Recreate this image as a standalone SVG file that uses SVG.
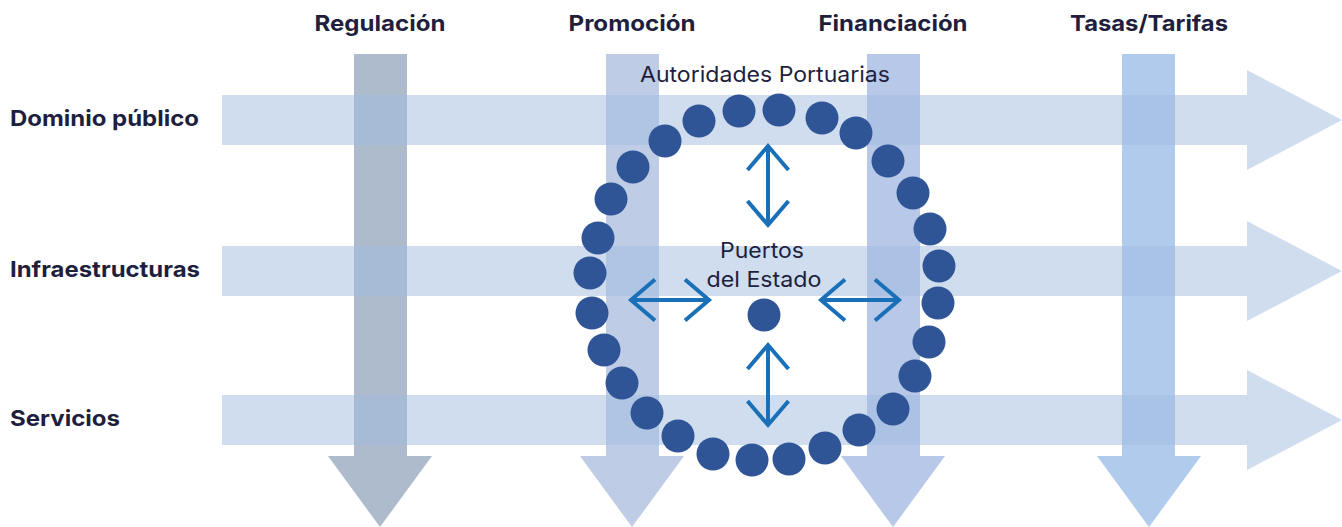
<svg xmlns="http://www.w3.org/2000/svg" width="1342" height="527" viewBox="0 0 1342 527">
<style>
.hd{font-family:Inter,"Liberation Sans",sans-serif;font-weight:700;font-size:22px;fill:#1e1f3f}
.rg{font-family:Inter,"Liberation Sans",sans-serif;font-weight:400;font-size:21.5px;fill:#1e1f3f}
.h{fill:#a2bce0;fill-opacity:0.5}
.dot{fill:#2f5597}
.dbl{stroke:#1a70b8;stroke-width:4;fill:none;marker-start:url(#chev);marker-end:url(#chev)}
</style>
<defs>
<marker id="chev" markerUnits="userSpaceOnUse" viewBox="-28 -24 32 48" refX="0" refY="0" markerWidth="32" markerHeight="48" orient="auto-start-reverse">
<path d="M-24,-20.5 L0,0 L-24,20.5" fill="none" stroke="#1a70b8" stroke-width="4"/>
</marker>
</defs>
<rect width="1342" height="527" fill="#ffffff"/>
<g id="col-regulacion">
<path d="M354,54 H407 V456 H432 L380,527 L328,456 H354 Z" fill="#aebbcd"/>
<text class="hd" x="380" y="31" text-anchor="middle" textLength="131" lengthAdjust="spacingAndGlyphs">Regulación</text>
</g>
<g id="col-promocion">
<path d="M606,54 H659 V456 H684 L632,527 L580,456 H606 Z" fill="#bfcce6"/>
<text class="hd" x="632" y="31" text-anchor="middle" textLength="127" lengthAdjust="spacingAndGlyphs">Promoción</text>
</g>
<g id="col-financiacion">
<path d="M867,54 H920 V456 H945 L893,527 L841,456 H867 Z" fill="#b7c8e8"/>
<text class="hd" x="893" y="31" text-anchor="middle" textLength="149" lengthAdjust="spacingAndGlyphs">Financiación</text>
</g>
<g id="col-tasas">
<path d="M1122,54 H1175 V456 H1201 L1149,527 L1097,456 H1122 Z" fill="#b0cbec"/>
<text class="hd" x="1149" y="31" text-anchor="middle" textLength="158" lengthAdjust="spacingAndGlyphs">Tasas/Tarifas</text>
</g>
<g id="row-dominio">
<path class="h" d="M222,95 H1247 V70 L1342,120 L1247,170 V145 H222 Z"/>
<text class="hd" x="10" y="126" textLength="189" lengthAdjust="spacingAndGlyphs">Dominio público</text>
</g>
<g id="row-infraestructuras">
<path class="h" d="M222,246 H1247 V221 L1342,271 L1247,321 V296 H222 Z"/>
<text class="hd" x="10" y="277" textLength="190" lengthAdjust="spacingAndGlyphs">Infraestructuras</text>
</g>
<g id="row-servicios">
<path class="h" d="M222,395 H1247 V370 L1342,420 L1247,470 V445 H222 Z"/>
<text class="hd" x="10" y="426" textLength="110" lengthAdjust="spacingAndGlyphs">Servicios</text>
</g>
<g id="autoridades-portuarias">
<text class="rg" x="765" y="82" text-anchor="middle" textLength="250" lengthAdjust="spacingAndGlyphs">Autoridades Portuarias</text>
<circle class="dot" cx="699" cy="121" r="16.5"/>
<circle class="dot" cx="739" cy="111" r="16.5"/>
<circle class="dot" cx="779" cy="110" r="16.5"/>
<circle class="dot" cx="822" cy="118" r="16.5"/>
<circle class="dot" cx="856" cy="133" r="16.5"/>
<circle class="dot" cx="888" cy="161" r="16.5"/>
<circle class="dot" cx="913" cy="193" r="16.5"/>
<circle class="dot" cx="930" cy="229" r="16.5"/>
<circle class="dot" cx="939" cy="266" r="16.5"/>
<circle class="dot" cx="938" cy="303" r="16.5"/>
<circle class="dot" cx="929" cy="342" r="16.5"/>
<circle class="dot" cx="915" cy="376" r="16.5"/>
<circle class="dot" cx="893" cy="409" r="16.5"/>
<circle class="dot" cx="859" cy="430" r="16.5"/>
<circle class="dot" cx="825" cy="448" r="16.5"/>
<circle class="dot" cx="789" cy="459" r="16.5"/>
<circle class="dot" cx="752" cy="460" r="16.5"/>
<circle class="dot" cx="713" cy="454" r="16.5"/>
<circle class="dot" cx="678" cy="436" r="16.5"/>
<circle class="dot" cx="647" cy="413" r="16.5"/>
<circle class="dot" cx="622" cy="383" r="16.5"/>
<circle class="dot" cx="604" cy="350" r="16.5"/>
<circle class="dot" cx="592" cy="313" r="16.5"/>
<circle class="dot" cx="590" cy="273" r="16.5"/>
<circle class="dot" cx="598" cy="238" r="16.5"/>
<circle class="dot" cx="611" cy="199" r="16.5"/>
<circle class="dot" cx="633" cy="167" r="16.5"/>
<circle class="dot" cx="665" cy="141" r="16.5"/>
</g>
<g id="puertos-del-estado">
<text class="rg" x="762" y="258" text-anchor="middle" textLength="84" lengthAdjust="spacingAndGlyphs">Puertos</text>
<text class="rg" x="764" y="287" text-anchor="middle" textLength="115" lengthAdjust="spacingAndGlyphs">del Estado</text>
<circle class="dot" cx="764" cy="315" r="16.5"/>
</g>
<g id="connectors">
<line class="dbl" x1="768" y1="146" x2="768" y2="225"/>
<line class="dbl" x1="768" y1="345" x2="768" y2="425"/>
<line class="dbl" x1="631" y1="300" x2="709" y2="300"/>
<line class="dbl" x1="821" y1="300" x2="899" y2="300"/>
</g>
</svg>
